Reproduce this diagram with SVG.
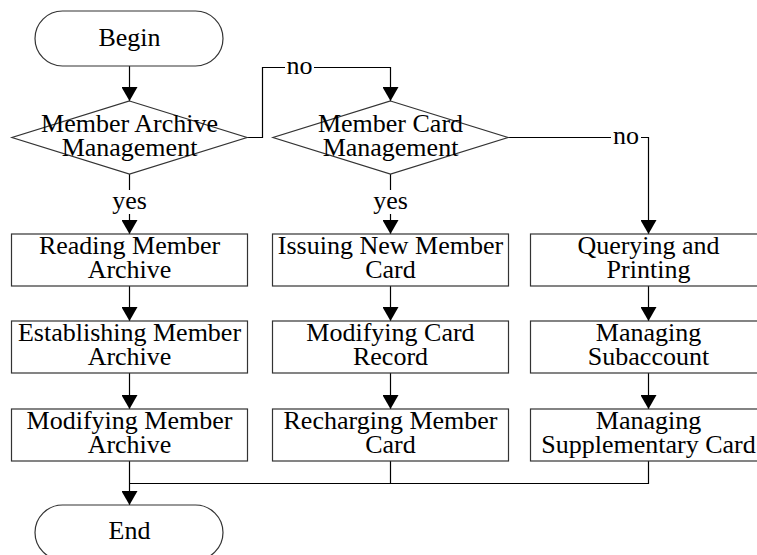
<svg xmlns="http://www.w3.org/2000/svg" width="757" height="555" viewBox="0 0 757 555">
<defs>
<style>
.shape{fill:#fff;stroke:#333;stroke-width:1.2}
.line{fill:none;stroke:#000;stroke-width:1.2}
.arr{marker-end:url(#ah)}
</style>
<marker id="ah" markerUnits="userSpaceOnUse" viewBox="0 0 14 16" refX="14" refY="8" markerWidth="14" markerHeight="16" orient="auto">
<path d="M0,0 L14,8 L0,16 z" fill="#000"/>
</marker>
</defs>
<g font-family="Liberation Serif" font-size="26" text-anchor="middle" fill="#000">
<g id="connectors">
<path class="line arr" d="M129.5,66 V101"/>
<path class="line" d="M247,137.5 H262.5 V67.5 H285"/>
<path class="line arr" d="M314,67.5 H390.5 V101"/>
<path class="line" d="M129.5,174 V190"/>
<path class="line arr" d="M129.5,214 V234"/>
<path class="line" d="M390.5,174 V190"/>
<path class="line arr" d="M390.5,214 V234"/>
<path class="line" d="M508,137.5 H611"/>
<path class="line arr" d="M641,137.5 H648.5 V234"/>
<path class="line arr" d="M129.5,286 V321"/>
<path class="line arr" d="M129.5,373 V409"/>
<path class="line arr" d="M390.5,286 V321"/>
<path class="line arr" d="M390.5,373 V409"/>
<path class="line arr" d="M648.5,286 V321"/>
<path class="line arr" d="M648.5,373 V409"/>
<path class="line arr" d="M129.5,461 V505"/>
<path class="line" d="M129.5,483.5 H648.5 V461 M390.5,461 V483.5"/>
<text x="299.5" y="74">no</text>
<text x="626" y="144">no</text>
<text x="129.5" y="209">yes</text>
<text x="390.5" y="209">yes</text>
</g>
<g id="begin">
<rect class="shape" x="35" y="11" width="188" height="55" rx="27.5"/>
<text x="129.5" y="46">Begin</text>
</g>
<g id="member-archive-management">
<polygon class="shape" points="129.5,101 247,137.5 129.5,174 12,137.5"/>
<text x="129.5" y="131.5">Member Archive</text>
<text x="129.5" y="155.5">Management</text>
</g>
<g id="member-card-management">
<polygon class="shape" points="390.5,101 508,137.5 390.5,174 273,137.5"/>
<text x="390.5" y="131.5">Member Card</text>
<text x="390.5" y="155.5">Management</text>
</g>
<g id="reading-member-archive">
<rect class="shape" x="11.5" y="234" width="236" height="52"/>
<text x="129.5" y="253.5">Reading Member</text>
<text x="129.5" y="277.5">Archive</text>
</g>
<g id="establishing-member-archive">
<rect class="shape" x="11.5" y="321" width="236" height="52"/>
<text x="129.5" y="340.5">Establishing Member</text>
<text x="129.5" y="364.5">Archive</text>
</g>
<g id="modifying-member-archive">
<rect class="shape" x="11.5" y="409" width="236" height="52"/>
<text x="129.5" y="428.5">Modifying Member</text>
<text x="129.5" y="452.5">Archive</text>
</g>
<g id="issuing-new-member-card">
<rect class="shape" x="272.5" y="234" width="236" height="52"/>
<text x="390.5" y="253.5">Issuing New Member</text>
<text x="390.5" y="277.5">Card</text>
</g>
<g id="modifying-card-record">
<rect class="shape" x="272.5" y="321" width="236" height="52"/>
<text x="390.5" y="340.5">Modifying Card</text>
<text x="390.5" y="364.5">Record</text>
</g>
<g id="recharging-member-card">
<rect class="shape" x="272.5" y="409" width="236" height="52"/>
<text x="390.5" y="428.5">Recharging Member</text>
<text x="390.5" y="452.5">Card</text>
</g>
<g id="querying-and-printing">
<rect class="shape" x="530.5" y="234" width="236" height="52"/>
<text x="648.5" y="253.5">Querying and</text>
<text x="648.5" y="277.5">Printing</text>
</g>
<g id="managing-subaccount">
<rect class="shape" x="530.5" y="321" width="236" height="52"/>
<text x="648.5" y="340.5">Managing</text>
<text x="648.5" y="364.5">Subaccount</text>
</g>
<g id="managing-supplementary-card">
<rect class="shape" x="530.5" y="409" width="236" height="52"/>
<text x="648.5" y="428.5">Managing</text>
<text x="648.5" y="452.5">Supplementary Card</text>
</g>
<g id="end">
<rect class="shape" x="35" y="505" width="188" height="55" rx="27.5"/>
<text x="129.5" y="539">End</text>
</g>
</g>
</svg>
